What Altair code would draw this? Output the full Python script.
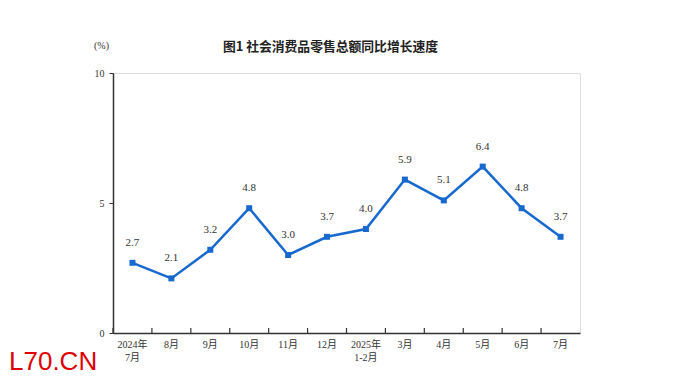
import altair as alt
import pandas as pd

categories = ["2024年 7月", "8月", "9月", "10月", "11月", "12月", "2025年 1-2月",
              "3月", "4月", "5月", "6月", "7月"]
values = [2.7, 2.1, 3.2, 4.8, 3.0, 3.7, 4.0, 5.9, 5.1, 6.4, 4.8, 3.7]
labels = ["2.7", "2.1", "3.2", "4.8", "3.0", "3.7", "4.0", "5.9", "5.1", "6.4", "4.8", "3.7"]
y_ticks = [0, 5, 10]
title_text = "图1  社会消费品零售总额同比增长速度"
unit_text = "(%)"
watermark = "L70.CN"

df = pd.DataFrame({"month": categories, "value": values, "label": labels})

SERIF = "Liberation Serif, Noto Sans CJK SC"
BLUE = "#1769cf"

xs = alt.Scale(domain=categories, paddingInner=0, paddingOuter=0)
x_enc = alt.X("month:N", sort=categories, scale=xs,
              axis=alt.Axis(title=None, labelAngle=0, labelFont=SERIF, labelFontSize=10,
                            labelColor="#333", labelPadding=6, tickSize=0,
                            domainColor="#333", domainWidth=1.5,
                            labelExpr="split(datum.label, ' ')", labelLineHeight=13))
x_plain = alt.X("month:N", sort=categories, scale=xs)
y_enc = alt.Y("value:Q", scale=alt.Scale(domain=[0, 10], nice=False),
              axis=alt.Axis(values=y_ticks, title=unit_text, titleAngle=0, titleX=-12, titleY=-28,
                            titleAlign="center", titleBaseline="middle", titleFont=SERIF,
                            titleFontSize=10, titleFontWeight="normal", titleColor="#333",
                            labelFont=SERIF, labelFontSize=10, labelColor="#333",
                            tickSize=4, tickColor="#333", labelPadding=5,
                            domainColor="#333", domainWidth=1.5, grid=False))

base = alt.Chart(df)

line = base.mark_line(color=BLUE, strokeWidth=2.5).encode(x=x_enc, y=y_enc)
pts = base.mark_square(color=BLUE, size=36, opacity=1).encode(x=x_plain, y="value:Q")
txt = base.mark_text(dy=-20, font=SERIF, fontSize=11, color="#333").encode(
    x=x_plain, y="value:Q", text="label:N")

ticks = base.mark_rule(color="#333", strokeWidth=1.2).encode(
    x=alt.X("month:N", sort=categories, scale=xs, bandPosition=0),
    y=alt.value(260), y2=alt.value(255))

wm = alt.Chart(pd.DataFrame({"t": [watermark]})).mark_text(
    font="Liberation Sans", fontSize=26, color="#dd0000", align="left", baseline="middle"
).encode(text="t:N", x=alt.value(-104), y=alt.value(289))

chart = alt.layer(line, pts, txt, ticks, wm).properties(
    width=467, height=260,
    title=alt.TitleParams(title_text, font="Noto Sans CJK SC", fontSize=12.8, fontWeight="bold",
                          color="#222", anchor="middle", dx=-16, offset=-14),
    autosize=alt.AutoSizeParams(type="none"),
    padding={"left": 105, "top": 65, "right": 80, "bottom": 50},
).configure_view(stroke="#444", strokeWidth=1.3).configure(background="white")

chart.save("out.html", embed_options={"renderer": "svg", "actions": False})
